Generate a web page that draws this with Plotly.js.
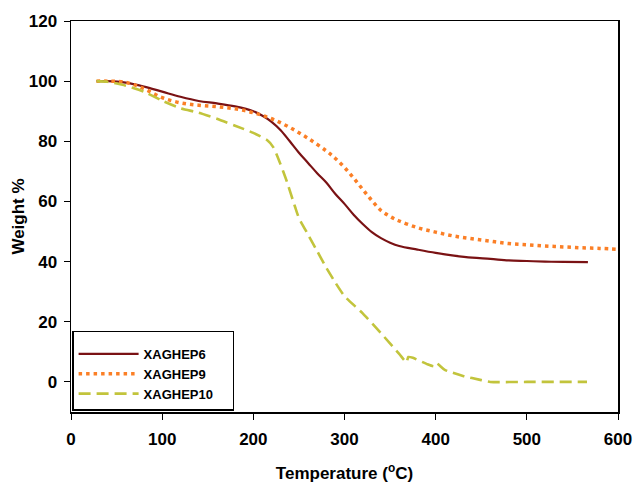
<!DOCTYPE html>
<html>
<head>
<meta charset="utf-8">
<script src="https://cdn.plot.ly/plotly-3.0.1.min.js"></script>
<style>html,body{margin:0;padding:0;background:#fff;}#chart{width:633px;height:483px;}</style>
</head>
<body>
<div id="chart"></div>
<script>
const seriesNames = ["XAGHEP6", "XAGHEP9", "XAGHEP10"];

const temp6 = [28,40,60,80,100,120,140,160,180,200,210,220,230,240,250,260,270,280,290,300,310,320,330,340,350,360,380,400,420,440,460,480,500,520,540,567];
const weight6 = [100,100,99.5,98.2,96.5,94.8,93.4,92.6,91.6,90,88.5,86.5,83.7,80,76.2,72.8,69.4,66.3,62.5,59.2,55.6,52.5,49.8,47.8,46.3,45.2,44,42.9,42,41.3,40.9,40.4,40.2,40,39.9,39.8];

const temp9 = [28,40,60,80,100,120,140,160,180,200,220,240,260,280,290,300,310,320,330,340,350,360,380,400,420,440,460,480,500,520,540,560,580,600];
const weight9 = [100,100,99.6,97.5,94.5,92.8,92,91.5,90.8,89.5,87.5,84.6,81,76.8,74.3,71.3,67.8,64,60.3,57,55,53.5,51.3,49.8,48.5,47.6,46.8,46,45.6,45.2,44.9,44.6,44.4,44.1];

const temp10 = [28,40,60,80,100,120,140,160,180,200,215,222,229,236,246,250,260,270,280,290,300,320,340,360,368,370,375,390,398,401,410,430,450,460,500,566];
const weight10 = [100,99.8,98.5,96.5,93.5,91,89.5,87.5,85.2,82.8,80.4,78,73,67.3,58,54.5,49,43.5,38,33,28.5,22.8,16.2,9.3,6.5,8.3,8,6,5.2,6.2,4,2,0.6,0,0,0];

const xTicks = [0,100,200,300,400,500,600];
const yTicks = [0,20,40,60,80,100,120];

const fam = "Liberation Sans, Arial, sans-serif";
const pad = "\u00a0\u00a0\u00a0\u00a0";

const traces = [
  {x: temp6, y: weight6, name: "<b>" + seriesNames[0] + "</b>" + pad, mode: "lines", line: {color: "#7a1214", width: 2.2, shape: "spline"}},
  {x: temp9, y: weight9, name: "<b>" + seriesNames[1] + "</b>" + pad, mode: "lines", line: {color: "#fb7f26", width: 3.5, dash: "3.5px,4px", shape: "spline"}},
  {x: temp10, y: weight10, name: "<b>" + seriesNames[2] + "</b>" + pad, mode: "lines", line: {color: "#c2c43c", width: 2.6, dash: "12px,6px", shape: "spline", smoothing: 0.5}}
];

const layout = {
  width: 633, height: 483,
  margin: {l: 71, r: 15, t: 21, b: 71},
  paper_bgcolor: "#fff", plot_bgcolor: "#fff",
  font: {family: fam, size: 16, color: "#000"},
  showlegend: true,
  legend: {
    x: 0.002, y: 0.003, xanchor: "left", yanchor: "bottom",
    bordercolor: "#000", borderwidth: 1.5, bgcolor: "#fff",
    font: {family: fam, size: 13, color: "#000"},
    title: {text: " ", font: {size: 5}},
    itemwidth: 60,
    tracegroupgap: 0
  },
  xaxis: {
    range: [0, 600], tickvals: xTicks, ticktext: xTicks.map(v => "<b>" + v + "</b>"),
    showgrid: false, zeroline: false,
    showline: true, linecolor: "#000", linewidth: 1.5, mirror: true,
    ticks: "outside", ticklen: 6, tickcolor: "#000", tickwidth: 1,
    ticklabelstandoff: 5,
    tickfont: {family: fam, size: 17, color: "#000"},
    title: {text: "<b>Temperature (<sup>o</sup>C)</b>", standoff: 22, font: {family: fam, size: 17, color: "#000"}}
  },
  yaxis: {
    range: [-10, 120], tickvals: yTicks, ticktext: yTicks.map(v => "<b>" + v + "</b>"),
    showgrid: false, zeroline: false,
    showline: true, linecolor: "#000", linewidth: 1.5, mirror: true,
    ticks: "outside", ticklen: 6, tickcolor: "#000", tickwidth: 1,
    ticklabelstandoff: 3,
    tickfont: {family: fam, size: 17, color: "#000"},
    title: {text: "<b>Weight %</b>", standoff: 0, font: {family: fam, size: 17, color: "#000"}}
  }
};

Plotly.newPlot("chart", traces, layout, {displayModeBar: false, staticPlot: true});
</script>
</body>
</html>
